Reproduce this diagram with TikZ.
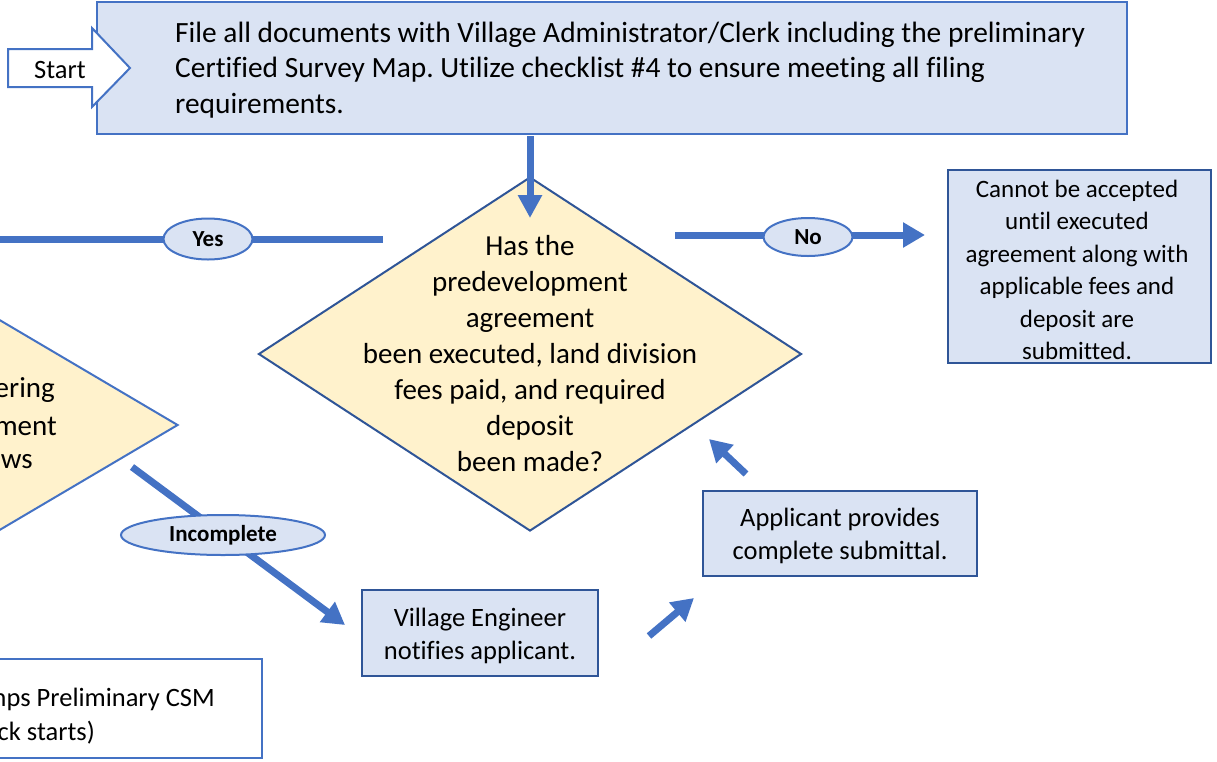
\documentclass[tikz,border=0pt]{standalone}
\usepackage{fontspec}
\setmainfont{Carlito}[Ligatures=NoCommon]
\usetikzlibrary{arrows.meta,shapes.geometric}
\definecolor{accent}{HTML}{4472C4}
\definecolor{darkacc}{HTML}{2F5597}
\definecolor{boxfill}{HTML}{DAE3F3}
\definecolor{decfill}{HTML}{FFF2CC}
\frenchspacing
\begin{document}
\begin{tikzpicture}[x=1pt,y=-1pt,
  bluebox/.style={rectangle,draw=darkacc,line width=2pt,fill=boxfill,inner sep=0pt},
  whitebox/.style={rectangle,draw=accent,line width=2pt,fill=white,inner sep=0pt},
  decision/.style={diamond,draw=darkacc,line width=2pt,fill=decfill,inner sep=0pt},
  lbl/.style={ellipse,draw=accent,line width=2pt,fill=boxfill,inner sep=0pt,font=\bfseries\fontsize{23}{27}\selectfont},
  conn/.style={draw=accent,line width=7pt},
  tip/.style={-{Triangle[length=22pt,width=24pt]}},
  txt/.style={inner sep=0pt,font=\fontsize{26.5}{32.4}\selectfont},
  ctxt/.style={inner sep=0pt,align=center,font=\fontsize{26.5}{32.4}\selectfont},
  bigtxt/.style={inner sep=0pt,font=\fontsize{29}{35.5}\selectfont}
]
\useasboundingbox (0,0) rectangle (1217,761);
\begin{scope}
\clip (0,0) rectangle (1217,761);

% top box
\node[rectangle,draw=accent,line width=2.5pt,fill=boxfill,inner sep=0pt,minimum width=1030pt,minimum height=132pt] (file) at (612,68) {};
\node[bigtxt,align=left,anchor=west,font=\fontsize{29.4}{35.3}\selectfont] (filetext) at (175,70) {File all documents with Village Administrator/Clerk including the preliminary\\Certified Survey Map. Utilize checklist \#4 to ensure meeting all filing\\requirements.};

% start arrow
\draw[accent,line width=2pt,fill=white] (8,49) -- (92,49) -- (92,28) -- (130,68) -- (92,107) -- (92,87) -- (8,87) -- cycle;
\node[txt] (start) at (60,70) {Start};

% left (partial) diamond
\node[diamond,draw=accent,line width=2pt,fill=decfill,inner sep=0pt,minimum width=542pt,minimum height=320pt] (review) at (-93,425) {};
\node[bigtxt,anchor=east] (r1) at (55,390) {ering};
\node[bigtxt,anchor=east] (r2) at (57,426) {ment};
\node[bigtxt,anchor=east] (r3) at (33,462) {ws};

% main decision
\node[decision,minimum width=543pt,minimum height=354pt] (q) at (530,354) {};
\node[bigtxt,align=center,font=\fontsize{29}{36}\selectfont] (qtext) at (530,354) {Has the\\predevelopment\\agreement\\been executed, land division\\fees paid, and required\\deposit\\been made?};

% down arrow
\coordinate (d1) at (530,136);
\coordinate (d2) at (530,218);
\draw[conn,-{Triangle[length=23pt,width=23pt]}] (d1) -- (d2);

% yes line
\coordinate (yl) at (0,239);
\coordinate (yr) at (383,239);
\draw[conn] (yl) -- (yr);
\node[lbl,minimum width=89pt,minimum height=41pt] (yes) at (208,239) {Yes};

% no arrow
\coordinate (nl) at (675,235);
\coordinate (nr) at (925,235);
\draw[conn,tip] (nl) -- (nr);
\node[lbl,minimum width=89pt,minimum height=38pt] (no) at (808,237) {No};

% cannot box
\node[bluebox,minimum width=263pt,minimum height=193pt] (cannot) at (1079.5,266) {};
\node[ctxt,font=\fontsize{25}{32.4}\selectfont] (cannottext) at (1077,270) {Cannot be accepted\\until executed\\agreement along with\\applicable fees and\\deposit are\\submitted.};

% incomplete
\coordinate (i1) at (132,467);
\coordinate (i2) at (345,625);
\draw[conn,tip] (i1) -- (i2);
\node[lbl,minimum width=204pt,minimum height=40pt] (inc) at (223,535) {Incomplete};

% notify box
\node[bluebox,minimum width=236pt,minimum height=86pt] (notify) at (480,633) {};
\node[ctxt] (notifytext) at (480,636) {Village Engineer\\notifies applicant.};

% arrow to applicant
\coordinate (a1) at (649,636);
\coordinate (a2) at (694,598);
\draw[conn,tip] (a1) -- (a2);

% applicant box
\node[bluebox,minimum width=274pt,minimum height=85pt] (applicant) at (840,533) {};
\node[ctxt] (applicanttext) at (840,536) {Applicant provides\\complete submittal.};

% arrow back to decision
\coordinate (b1) at (746,474);
\coordinate (b2) at (709,439);
\draw[conn,tip] (b1) -- (b2);

% bottom-left box
\node[whitebox,minimum width=562pt,minimum height=99pt] (stamp) at (-19,708.5) {};
\node[txt,anchor=east] (s1) at (215,699) {mps Preliminary CSM};
\node[txt,anchor=east] (s2) at (95,733) {ck starts)};
\end{scope}
\end{tikzpicture}
\end{document}
